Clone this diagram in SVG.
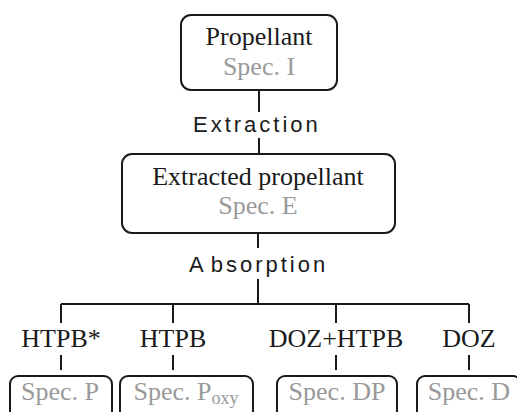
<svg xmlns="http://www.w3.org/2000/svg" width="517" height="412" viewBox="0 0 517 412">
<style>
.box{fill:#fff;stroke:#1a1a1a;stroke-width:2}
.ln{fill:none;stroke:#1a1a1a;stroke-width:2}
.t{font-family:"Liberation Serif","Times New Roman",serif;font-size:26px;fill:#1a1a1a;text-anchor:middle}
.g{font-family:"Liberation Serif","Times New Roman",serif;font-size:26px;fill:#999;text-anchor:middle}
.s{font-family:"Liberation Sans",Arial,sans-serif;font-size:22px;fill:#1a1a1a;letter-spacing:3px}
</style>
<rect width="517" height="412" fill="#fff"/>
<g id="connectors">
<path class="ln" d="M259 90V112M259 138V154"/>
<path class="ln" d="M258 233V248M258 279V304M61 304H469M61 304V323M173 304V323M336 304V323M469 304V323"/>
<path class="ln" d="M61 355V370M173 355V370M336 355V370M469 355V370"/>
</g>
<g id="propellant">
<rect class="box" x="181" y="15" width="156" height="75" rx="10"/>
<text class="t" x="259" y="45">Propellant</text>
<text class="g" x="259" y="75">Spec. I</text>
</g>
<g id="extraction"><text class="s" x="193" y="132">Extraction</text></g>
<g id="extracted">
<rect class="box" x="122" y="154" width="273" height="79" rx="10"/>
<text class="t" x="258" y="185">Extracted propellant</text>
<text class="g" x="258" y="214">Spec. E</text>
</g>
<g id="absorption"><text class="s" x="189" y="272">A<tspan dx="4">bsorption</tspan></text></g>
<g id="htpb-star"><text class="t" x="61" y="347">HTPB*</text>
<rect class="box" x="10" y="376" width="102" height="50" rx="8"/>
<text class="g" x="60" y="400">Spec. P</text></g>
<g id="htpb"><text class="t" x="173" y="347">HTPB</text>
<rect class="box" x="120" y="376" width="133" height="50" rx="8"/>
<text class="g" x="186" y="400">Spec. P<tspan font-size="18" dy="4">oxy</tspan></text></g>
<g id="doz-htpb"><text class="t" x="336" y="347">DOZ+HTPB</text>
<rect class="box" x="277" y="376" width="120" height="50" rx="8"/>
<text class="g" x="337" y="400">Spec. DP</text></g>
<g id="doz"><text class="t" x="469" y="347">DOZ</text>
<rect class="box" x="417" y="376" width="104" height="50" rx="8"/>
<text class="g" x="469" y="400">Spec. D</text></g>
</svg>
